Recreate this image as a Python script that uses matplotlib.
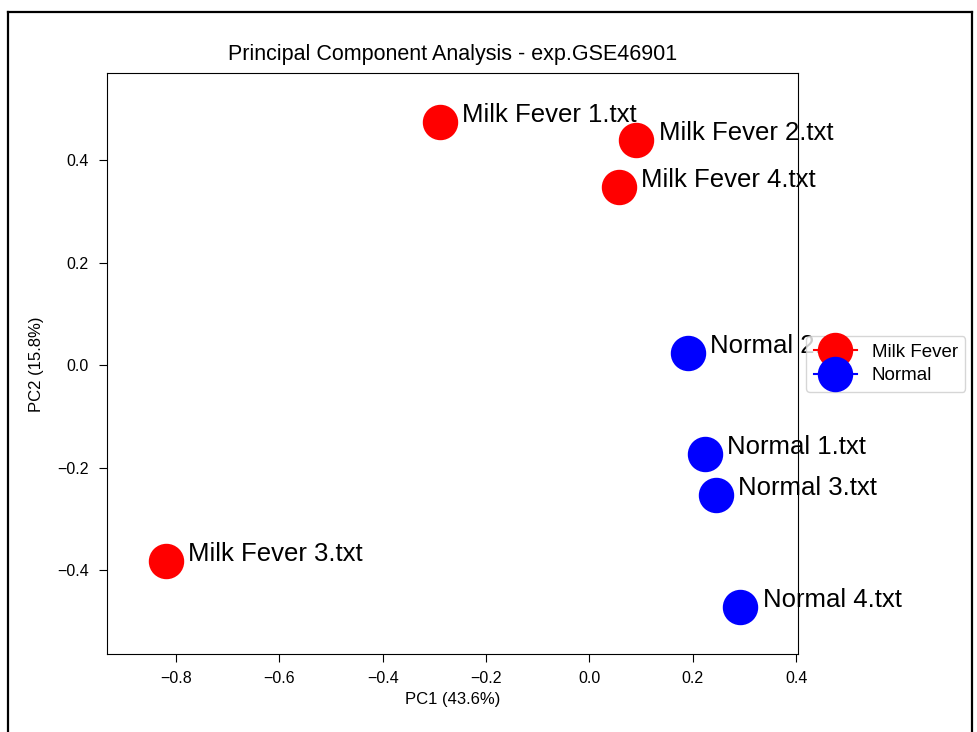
import matplotlib
matplotlib.use("Agg")
import matplotlib.pyplot as plt
from matplotlib.lines import Line2D

plt.rcParams['font.family'] = ['Liberation Sans', 'DejaVu Sans']

# PCA scores per sample
samples = ["Milk Fever 1.txt", "Milk Fever 2.txt", "Milk Fever 3.txt", "Milk Fever 4.txt",
           "Normal 1.txt", "Normal 2.txt", "Normal 3.txt", "Normal 4.txt"]
groups = ["Milk Fever", "Milk Fever", "Milk Fever", "Milk Fever",
          "Normal", "Normal", "Normal", "Normal"]
pc1 = [-0.289, 0.091, -0.820, 0.057, 0.223, 0.191, 0.245, 0.292]
pc2 = [0.475, 0.439, -0.382, 0.348, -0.174, 0.023, -0.254, -0.472]

group_order = ["Milk Fever", "Normal"]
group_colors = {"Milk Fever": "red", "Normal": "blue"}

var_pc1 = 43.6
var_pc2 = 15.8
dataset = "exp.GSE46901"

fig = plt.figure(figsize=(9.77, 7.32), dpi=100)
ax = fig.add_axes([0.1098, 0.1061, 0.7067, 0.7935])

seen = set()
for name, grp, x, y in zip(samples, groups, pc1, pc2):
    lbl = grp if grp not in seen else None
    seen.add(grp)
    ax.plot([x], [y], marker='o', color=group_colors[grp], ms=24.5, label=lbl)
    ax.annotate(name, (x, y), xytext=(16, 0), textcoords='offset points',
                fontsize=18.5, va='baseline', ha='left', zorder=2)

ax.set_xlim(-0.933, 0.403)
ax.set_ylim(-0.5645, 0.569)
ax.set_xticks([-0.8, -0.6, -0.4, -0.2, 0.0, 0.2, 0.4])
ax.set_yticks([-0.4, -0.2, 0.0, 0.2, 0.4])
ax.tick_params(labelsize=11.5, length=5.5, pad=6.5)
ax.tick_params(axis='y', pad=8)

ax.set_title("Principal Component Analysis - " + dataset, fontsize=15.5, pad=10)
ax.set_xlabel("PC1 (%.1f%%)" % var_pc1, fontsize=12, labelpad=4)
ax.set_ylabel("PC2 (%.1f%%)" % var_pc2, fontsize=12, labelpad=9)

handles, labels = ax.get_legend_handles_labels()
order = [labels.index(g) for g in group_order]
ax.legend([handles[i] for i in order], [labels[i] for i in order],
          loc='center left', bbox_to_anchor=(1.0, 0.5), fontsize=13.5,
          labelspacing=0.35, handlelength=2.3, borderaxespad=0.45)

# outer frame around the figure
W, H = 977.0, 732.0
fx0, fx1, fy1 = 8 / W, 972 / W, 1 - 12 / H
for xs, ys in [([fx0, fx0], [-0.1, fy1]), ([fx0, fx1], [fy1, fy1]), ([fx1, fx1], [fy1, -0.1])]:
    fig.add_artist(Line2D(xs, ys, transform=fig.transFigure, color='black', lw=1.6))

fig.savefig("out.png", dpi=100)
